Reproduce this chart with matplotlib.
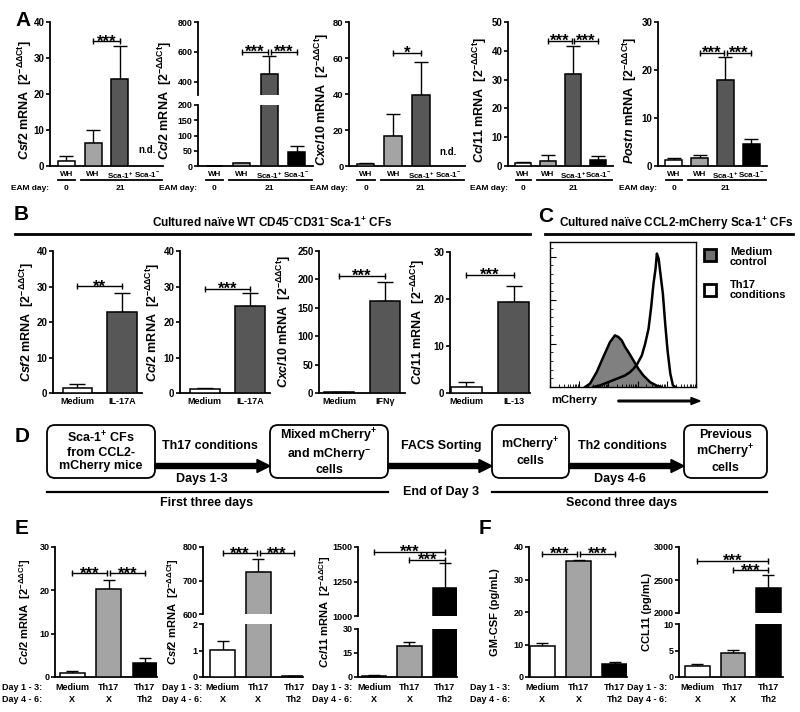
import numpy as np
import matplotlib
matplotlib.use('Agg')
import matplotlib.pyplot as plt
import matplotlib.transforms as mtransforms
from matplotlib.patches import FancyBboxPatch, FancyArrow, Rectangle

plt.rcParams['font.family'] = ['Liberation Sans', 'DejaVu Sans']
plt.rcParams['font.weight'] = 'bold'
plt.rcParams['mathtext.fontset'] = 'custom'
plt.rcParams['mathtext.rm'] = 'Liberation Sans:weight=bold'
plt.rcParams['mathtext.it'] = 'Liberation Sans:style=italic:weight=bold'
plt.rcParams['mathtext.bf'] = 'Liberation Sans:weight=bold'
plt.rcParams['mathtext.sf'] = 'Liberation Sans:weight=bold'
plt.rcParams['mathtext.default'] = 'rm'

# ---------------- DATA ----------------
# Panel A (EAM day 0 WH, day 21 WH, Sca-1+, Sca-1-)
a_groups = ['WH', 'WH', 'Sca-1$^{+}$', 'Sca-1$^{-}$']
a_days = ['0', '21']
a_csf2 = [1.4, 6.3, 24.1, np.nan]
a_csf2_err = [1.3, 3.6, 9.2, np.nan]
a_ccl2 = [1.0, 9.0, 455.0, 47.0]
a_ccl2_err = [0.4, 2.0, 118.0, 19.0]
a_cxcl10 = [1.2, 16.8, 39.5, np.nan]
a_cxcl10_err = [0.3, 12.0, 18.2, np.nan]
a_ccl11 = [1.0, 1.7, 31.8, 2.2]
a_ccl11_err = [0.5, 2.0, 10.0, 1.3]
a_postn = [1.3, 1.7, 17.9, 4.6]
a_postn_err = [0.4, 0.6, 4.8, 1.1]
a_sig_csf2 = [(1, 2, 34.6, '***')]
a_sig_ccl2 = [(1, 1.95, 600, '***'), (2.05, 3, 600, '***')]
a_sig_cxcl10 = [(1, 2, 63, '*')]
a_sig_ccl11 = [(1, 1.95, 43.5, '***'), (2.05, 3, 43.5, '***')]
a_sig_postn = [(1, 1.95, 23.6, '***'), (2.05, 3, 23.6, '***')]

# Panel B
b_groups_csf2 = ['Medium', 'IL-17A']
b_csf2 = [1.3, 22.7]
b_csf2_err = [1.2, 5.5]
b_groups_ccl2 = ['Medium', 'IL-17A']
b_ccl2 = [1.0, 24.5]
b_ccl2_err = [0.4, 3.6]
b_groups_cxcl10 = ['Medium', 'IFNγ']
b_cxcl10 = [1.5, 162.5]
b_cxcl10_err = [0.8, 32.5]
b_groups_ccl11 = ['Medium', 'IL-13']
b_ccl11 = [1.35, 19.3]
b_ccl11_err = [1.05, 3.5]
b_sig_csf2 = [(0, 1, 30.1, '**')]
b_sig_ccl2 = [(0, 1, 29.4, '***')]
b_sig_cxcl10 = [(0, 1, 206, '***')]
b_sig_ccl11 = [(0, 1, 25.1, '***')]

# Panel C (flow histogram, % of max)
hist_medium_x = [24.0, 27.4, 32.0, 36.5, 41.1, 44.5, 46.8, 49.1, 51.4, 53.7, 57.1, 60.5, 63.9, 68.5, 73.1, 76.5]
hist_medium_y = [0.0, 0.023, 0.103, 0.207, 0.31, 0.356, 0.345, 0.322, 0.276, 0.241, 0.184, 0.126, 0.08, 0.034, 0.009, 0.0]
hist_th17_x = [29.7, 34.3, 40.0, 45.8, 51.5, 54.9, 57.2, 59.9, 62.9, 65.2, 67.5, 69.3, 70.9, 72.3, 73.2, 74.4,
               75.5, 77.3, 78.9, 80.5, 82.4, 84.2, 85.8]
hist_th17_y = [0.0, 0.011, 0.034, 0.057, 0.08, 0.103, 0.126, 0.161, 0.218, 0.299, 0.402, 0.552, 0.713, 0.816, 0.92,
               0.885, 0.793, 0.644, 0.437, 0.253, 0.092, 0.011, 0.0]

# Panel E / F
ef_day13 = ['Medium', 'Th17', 'Th17']
ef_day46 = ['X', 'X', 'Th2']
e_ccl2 = [1.0, 20.4, 3.3]
e_ccl2_err = [0.35, 2.0, 1.1]
e_csf2 = [1.03, 726.0, 0.02]
e_csf2_err = [0.34, 38.0, 0.02]
e_ccl11 = [0.9, 19.1, 1204.0]
e_ccl11_err = [0.3, 2.5, 177.0]
f_gmcsf = [9.6, 35.6, 4.1]
f_gmcsf_err = [0.8, 0.5, 0.4]
f_ccl11 = [2.0, 4.5, 2379.0]
f_ccl11_err = [0.45, 0.65, 200.0]
e_sig_ccl2 = [(0, 0.95, 23.9, '***'), (1.05, 2, 23.9, '***')]
e_sig_csf2 = [(0, 0.95, 781, '***'), (1.05, 2, 781, '***')]
e_sig_ccl11 = [(0, 2, 1465, '***'), (1, 2, 1405, '***')]
f_sig_gmcsf = [(0, 0.95, 38.0, '***'), (1.05, 2, 38.0, '***')]
f_sig_ccl11 = [(0, 2, 2792, '***'), (1, 2, 2646, '***')]

# ---------------- STYLE ----------------
WHITE, LIGHT, DARK, BLACK = 'white', '#a4a4a4', '#575757', 'black'
a_colors = [WHITE, LIGHT, DARK, BLACK]
b_colors = [WHITE, DARK]
ef_colors = [WHITE, LIGHT, BLACK]

W, H = 800, 712
fig = plt.figure(figsize=(W / 100, H / 100), dpi=100)

ov = fig.add_axes([0, 0, 1, 1], zorder=10)
ov.set_xlim(0, W)
ov.set_ylim(H, 0)
ov.axis('off')
ov.patch.set_visible(False)


def add_ax(x0, y0, x1, y1, bottom=True):
    ax = fig.add_axes([x0 / W, 1 - y1 / H, (x1 - x0) / W, (y1 - y0) / H])
    ax.patch.set_visible(False)
    for s in ('top', 'right'):
        ax.spines[s].set_visible(False)
    ax.spines['left'].set_linewidth(1.3)
    ax.spines['bottom'].set_linewidth(1.3)
    if not bottom:
        ax.spines['bottom'].set_visible(False)
    ax.tick_params(axis='y', direction='out', length=3, width=1.2, pad=1)
    ax.tick_params(axis='x', length=0)
    return ax


def draw_bars(ax, vals, errs, colors, width, capsize):
    v = np.asarray(vals, float)
    e = np.asarray(errs, float)
    x = np.arange(len(v))
    ok = ~np.isnan(v)
    cols = [c for c, k in zip(colors, ok) if k]
    ax.bar(x[ok], v[ok], width=width, color=cols, edgecolor='black', linewidth=1.1, zorder=3)
    ax.errorbar(x[ok], v[ok], yerr=[np.zeros(ok.sum()), e[ok]], fmt='none', ecolor='black',
                elinewidth=1.0, capsize=capsize, capthick=1.0, zorder=2)


def sig(ax, x1, x2, y, txt):
    ax.plot([x1, x2], [y, y], color='k', lw=1.0, marker='|', ms=4.5, mew=1.0, clip_on=False, zorder=4)
    ax.annotate(txt, xy=((x1 + x2) / 2, y), xytext=(0, -3.7), textcoords='offset points',
                ha='center', va='baseline', fontsize=12, annotation_clip=False)


def below(ax, dy_px):
    return mtransforms.offset_copy(ax.get_xaxis_transform(), fig=fig, y=-dy_px * 0.72, units='points')


def chart(xpx, segs, vals, errs, colors, width, xlim, labels, ylabel, ylab_x, sigs,
          tick_fs=7, label_fs=9, xlab_fs=6.3, xpad=4, ylab_dy=0, linespacing=1.2, capsize=4):
    axes = []
    for i, (yt, yb, lim, ticks) in enumerate(segs):
        last = i == len(segs) - 1
        ax = add_ax(xpx[0], yt, xpx[1], yb, bottom=last)
        draw_bars(ax, vals, errs, colors, width, capsize)
        ax.set_xlim(*xlim)
        ax.set_ylim(*lim)
        ax.set_yticks(ticks, [str(t) for t in ticks])
        ax.tick_params(axis='y', labelsize=tick_fs)
        if last:
            ax.set_xticks(np.arange(len(vals)), labels, fontsize=xlab_fs, linespacing=linespacing)
            ax.tick_params(axis='x', pad=xpad)
        else:
            ax.set_xticks([])
        axes.append(ax)
    for (x1, x2, y, t) in sigs:
        sig(axes[0], x1, x2, y, t)
    yc = (segs[0][0] + segs[-1][1]) / 2 + ylab_dy
    ov.text(ylab_x, yc, ylabel, rotation=90, ha='center', va='center', fontsize=label_fs)
    return axes


def ylab(gene):
    return r'$\mathit{' + gene + r'}$ mRNA  [2$^{-\Delta\Delta Ct}$]'


# ---------------- PANEL A ----------------
A_W = 0.63
A_XLIM = (-0.6, 3.6)
A_defs = [
    ((50, 163), [(22, 166, (0, 40), [0, 10, 20, 30, 40])], a_csf2, a_csf2_err, 'Csf2', 25, a_sig_csf2, 4.5, 7),
    ((198, 313), [(22, 95, (313, 800), [400, 600, 800]), (105, 166, (0, 200), [0, 50, 100, 150, 200])],
     a_ccl2, a_ccl2_err, 'Ccl2', 165, a_sig_ccl2, None, 6.4),
    ((349, 465), [(22, 166, (0, 80), [0, 20, 40, 60, 80])], a_cxcl10, a_cxcl10_err, 'Cxcl10', 322, a_sig_cxcl10, 8, 6.8),
    ((508, 613), [(22, 166, (0, 50), [0, 10, 20, 30, 40, 50])], a_ccl11, a_ccl11_err, 'Ccl11', 480, a_sig_ccl11, None, 7),
    ((658, 767), [(22, 166, (0, 30), [0, 10, 20, 30])], a_postn, a_postn_err, 'Postn', 630, a_sig_postn, None, 7),
]
for xpx, segs, vals, errs, gene, lx, sigs, nd, tfs in A_defs:
    axs = chart(xpx, segs, vals, errs, a_colors, A_W, A_XLIM, a_groups, ylab(gene), lx, sigs,
                tick_fs=tfs, label_fs=9, xlab_fs=5.8, xpad=3.5, ylab_dy=6, capsize=5)
    ax = axs[-1]
    if nd is not None:
        axs[0].text(3, nd, 'n.d.', ha='center', va='center', fontsize=7)
    ax.plot([-0.3, 0.33], [0, 0], transform=below(ax, 14), color='k', lw=1.3, clip_on=False)
    ax.plot([0.55, 3.55], [0, 0], transform=below(ax, 14), color='k', lw=1.3, clip_on=False)
    ax.text(-0.62, 0, 'EAM day:', transform=below(ax, 23), ha='right', va='center', fontsize=6)
    ax.text(0, 0, a_days[0], transform=below(ax, 23), ha='center', va='center', fontsize=6)
    ax.text(2, 0, a_days[1], transform=below(ax, 23), ha='center', va='center', fontsize=6)

# ---------------- PANEL B ----------------
B_defs = [
    ((53, 142), (-0.55, 1.45), (251, 393, (0, 40), [0, 10, 20, 30, 40]), b_csf2, b_csf2_err, b_groups_csf2, 'Csf2', 27, b_sig_csf2),
    ((180, 270), (-0.55, 1.45), (251, 393, (0, 40), [0, 10, 20, 30, 40]), b_ccl2, b_ccl2_err, b_groups_ccl2, 'Ccl2', 153, b_sig_ccl2),
    ((319, 405), (-0.45, 1.45), (251, 393, (0, 250), [0, 50, 100, 150, 200, 250]), b_cxcl10, b_cxcl10_err, b_groups_cxcl10, 'Cxcl10', 284, b_sig_cxcl10),
    ((450, 530), (-0.35, 1.35), (252, 393, (0, 30), [0, 10, 20, 30]), b_ccl11, b_ccl11_err, b_groups_ccl11, 'Ccl11', 418, b_sig_ccl11),
]
for xpx, xlim, seg, vals, errs, groups, gene, lx, sigs in B_defs:
    chart(xpx, [seg], vals, errs, b_colors, 0.66, xlim, groups, ylab(gene), lx, sigs,
          tick_fs=7, label_fs=9, xlab_fs=6.5, xpad=3, capsize=6)

ov.text(272, 223, 'Cultured naïve WT CD45$^{-}$CD31$^{-}$Sca-1$^{+}$ CFs', ha='center', va='center', fontsize=8.5)
ov.plot([15, 530], [234, 234], color='k', lw=2)

# ---------------- PANEL C ----------------
axc = fig.add_axes([550 / W, 1 - 387 / H, 146 / W, 145 / H])
axc.fill_between(hist_medium_x, hist_medium_y, color='#808080', lw=0)
axc.plot(hist_medium_x, hist_medium_y, color='k', lw=1.8)
axc.plot(hist_th17_x, hist_th17_y, color='k', lw=1.8)
axc.set_xlim(0, 100)
axc.set_ylim(0, 1)
for s in axc.spines.values():
    s.set_linewidth(1.0)
axc.set_xticks([0, 20, 40, 60, 80, 100], [])
axc.set_xticks([d * 20 + 20 * np.log10(k) for d in range(5) for k in range(2, 10)], minor=True)
axc.set_yticks([0.3, 0.6, 0.9], [])
axc.set_yticks(np.arange(0.06, 1.0, 0.06), minor=True)
axc.tick_params(which='major', direction='in', length=4, width=0.8)
axc.tick_params(which='minor', direction='in', length=2, width=0.6)
axc.tick_params(axis='x', which='both', top=False)
axc.tick_params(axis='y', which='both', right=False)

ov.text(676, 223, 'Cultured naïve CCL2-mCherry Sca-1$^{+}$ CFs', ha='center', va='center', fontsize=8.5)
ov.plot([545, 793], [234, 234], color='k', lw=2)
ov.add_patch(Rectangle((704, 249), 12, 12, fc='#707070', ec='k', lw=2))
ov.text(730, 257, 'Medium\ncontrol', ha='left', va='center', fontsize=8, linespacing=1.0)
ov.add_patch(Rectangle((704, 284), 12, 12, fc='white', ec='k', lw=2))
ov.text(730, 290, 'Th17\nconditions', ha='left', va='center', fontsize=8, linespacing=1.0)
ov.text(551, 400, 'mCherry', ha='left', va='center', fontsize=8)
ov.add_patch(FancyArrow(618, 401, 82, 0, width=1.6, head_width=7, head_length=9,
                        length_includes_head=True, color='k'))

# ---------------- PANEL D ----------------
boxes = [((47, 425, 155, 478), 'Sca-1$^{+}$ CFs\nfrom CCL2-\nmCherry mice'),
         ((270, 425, 388, 478), 'Mixed mCherry$^{+}$\nand mCherry$^{-}$\ncells'),
         ((492, 425, 569, 478), 'mCherry$^{+}$\ncells'),
         ((684, 425, 767, 478), 'Previous\nmCherry$^{+}$\ncells')]
for (x0, y0, x1, y1), txt in boxes:
    ov.add_patch(FancyBboxPatch((x0, y0), x1 - x0, y1 - y0, boxstyle='round,pad=0,rounding_size=8',
                                fc='white', ec='k', lw=1.3))
    ov.text((x0 + x1) / 2, (y0 + y1) / 2, txt, ha='center', va='center', fontsize=9, linespacing=1.15)
for xa, xb in [(155, 270), (388, 492), (569, 684)]:
    ov.add_patch(FancyArrow(xa, 466, xb - xa, 0, width=5, head_width=13, head_length=13,
                            length_includes_head=True, color='k'))
ov.text(210, 446, 'Th17 conditions', ha='center', va='center', fontsize=9)
ov.text(202, 479, 'Days 1-3', ha='center', va='center', fontsize=9)
ov.text(441, 446, 'FACS Sorting', ha='center', va='center', fontsize=9)
ov.text(622, 446, 'Th2 conditions', ha='center', va='center', fontsize=9)
ov.text(620, 479, 'Days 4-6', ha='center', va='center', fontsize=9)
ov.plot([47, 388], [492, 492], color='k', lw=1.6)
ov.plot([492, 767], [492, 492], color='k', lw=1.6)
ov.text(441, 492, 'End of Day 3', ha='center', va='center', fontsize=9)
ov.text(207, 503, 'First three days', ha='center', va='center', fontsize=9)
ov.text(622, 503, 'Second three days', ha='center', va='center', fontsize=9)

# ---------------- PANEL E / F ----------------
ef_labels = [a + '\n' + b for a, b in zip(ef_day13, ef_day46)]
EF_defs = [
    ((55, 157), (-0.47, 2.33), [(547, 677, (0, 30), [0, 10, 20, 30])], e_ccl2, e_ccl2_err, ylab('Ccl2'), 25, e_sig_ccl2, 2),
    ((203, 303), (-0.55, 2.25), [(547, 614, (600, 800), [600, 700, 800]), (624, 677, (0, 2), [0, 1, 2])],
     e_csf2, e_csf2_err, ylab('Csf2'), 173, e_sig_csf2, 162),
    ((358, 457), (-0.45, 2.34), [(547, 616, (1000, 1500), [1000, 1250, 1500]), (629, 677, (0, 30), [0, 15, 30])],
     e_ccl11, e_ccl11_err, ylab('Ccl11'), 325, e_sig_ccl11, 312),
    ((529, 627), (-0.37, 2.34), [(547, 677, (0, 40), [0, 10, 20, 30, 40])], f_gmcsf, f_gmcsf_err,
     'GM-CSF (pg/mL)', 495, f_sig_gmcsf, 470),
    ((679, 783), (-0.52, 2.41), [(547, 613, (2000, 3000), [2000, 2500, 3000]), (624, 677, (0, 10), [0, 5, 10])],
     f_ccl11, f_ccl11_err, 'CCL11 (pg/mL)', 647, f_sig_ccl11, 627),
]
for xpx, xlim, segs, vals, errs, label, lx, sigs, dx in EF_defs:
    chart(xpx, segs, vals, errs, ef_colors, 0.68, xlim, ef_labels, label, lx, sigs,
          tick_fs=6.5, label_fs=8, xlab_fs=6.5, xpad=4.5, linespacing=1.45, capsize=4)
    ov.text(dx, 688, 'Day 1 - 3:', ha='left', va='center', fontsize=6.5)
    ov.text(dx, 700, 'Day 4 - 6:', ha='left', va='center', fontsize=6.5)

# ---------------- panel letters ----------------
for t, x, y in [('A', 23, 20), ('B', 21, 215), ('C', 546, 217), ('D', 22, 437), ('E', 22, 528), ('F', 485, 528)]:
    ov.text(x, y, t, ha='center', va='center', fontsize=15)

fig.savefig('out.png', dpi=100)
